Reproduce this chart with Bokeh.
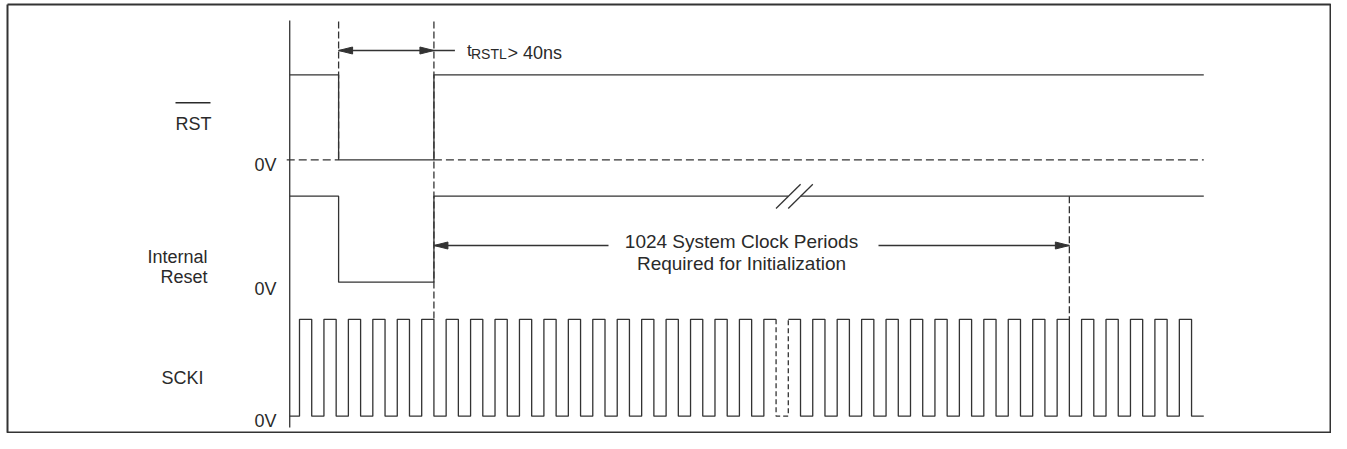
from bokeh.plotting import figure
from bokeh.models import Range1d
from bokeh.core.properties import value
from bokeh.embed import file_html
from bokeh.resources import INLINE

# ---------------- data (time measured in system-clock periods) ----------------
clk_rise = [0, 1, 2, 3, 4, 5, 6, 7, 8, 9, 10, 11, 12, 13, 14, 15, 16, 17, 18,
            19, 20, 21, 22, 23, 24, 25, 26, 27, 28, 29, 30, 31, 32, 33, 34, 35, 36]
clk_high_time = 0.5            # high phase of each clock period
clk_dashed_low = [19.5, 20.0]  # low phase drawn dashed (time break)
t_start = -0.4                 # time axis origin (vertical axis line)
t_end = 37.0
rst_edges = [1.6, 5.5]         # RST falling / rising
ir_edges = [1.6, 5.5]          # Internal Reset falling / rising
init_end = 31.5                # end of 1024 clock periods
ir_break = [20.0, 20.5]        # "//" break in Internal Reset
trstl_span = [1.6, 5.5]

signal_labels = ["RST", "Internal", "Reset", "SCKI"]
zero_label = "0V"
trstl_text = ["t", "RSTL", "> 40ns"]
init_text = ["1024 System Clock Periods", "Required for Initialization"]

# ---------------- layout / style ----------------
W, H = 1331, 433
OFF = 0                      # screen offset of the plot canvas
X0 = 299.0                   # screen x of t = 0
PX = 24.44                   # screen px per clock period
INK = "#333333"
TXT = "#2a2a2a"
FONT = "Liberation Sans"
LW = 1.3

RST_HI, RST_LO = 74.3, 159.3
IR_HI, IR_LO = 195.7, 281.7
CK_HI, CK_LO = 318.8, 415.7
AX_TOP, AX_BOT = 20.0, 427.0
DASH_TOP = 21.0
ARROW1_Y = 50.0
ARROW2_Y = 245.0
FRAME = (7, 4, 1330, 432)

p = figure(width=W, height=H, output_backend="svg", toolbar_location=None,
           x_axis_type=None, y_axis_type=None,
           x_range=Range1d((OFF - X0) / PX, (OFF + W - X0) / PX),
           y_range=Range1d(OFF + H, OFF),
           min_border=0, min_border_left=0, min_border_right=0,
           min_border_top=0, min_border_bottom=0)
p.grid.visible = False
p.outline_line_color = None
p.background_fill_color = "white"
p.border_fill_color = "white"


def px(d):
    return d / PX


def sx(x_screen):
    return (x_screen - X0) / PX


# frame
fl, ft, fr, fb = FRAME
p.line([sx(fl), sx(fr), sx(fr), sx(fl), sx(fl)], [ft, ft, fb, fb, ft],
       line_color=INK, line_width=2)

# vertical axis line
p.line([t_start, t_start], [AX_TOP, AX_BOT], line_color=INK, line_width=LW)

# ---- RST ----
f, r = rst_edges
p.line([t_start, f, f, r, r, t_end], [RST_HI, RST_HI, RST_LO, RST_LO, RST_HI, RST_HI],
       line_color=INK, line_width=LW)
p.line([t_start - px(3), f], [RST_LO, RST_LO], line_color=INK, line_width=LW, line_dash="8 4")
p.line([r, t_end], [RST_LO, RST_LO], line_color=INK, line_width=LW, line_dash="8 4")

# ---- Internal Reset ----
f, r = ir_edges
p.line([t_start, f, f, r, r, ir_break[0]], [IR_HI, IR_HI, IR_LO, IR_LO, IR_HI, IR_HI],
       line_color=INK, line_width=LW)
p.line([ir_break[1], t_end], [IR_HI, IR_HI], line_color=INK, line_width=LW)
for bt in ir_break:
    p.line([bt - px(12.3), bt + px(12.3)], [IR_HI + 12.3, IR_HI - 12.0],
           line_color=INK, line_width=LW)

# ---- SCKI ----
xs1, ys1 = [t_start], [CK_LO]
xs2, ys2 = [], []
for t in clk_rise:
    tf = t + clk_high_time
    if t < clk_dashed_low[1]:
        xs1 += [t, t, tf]
        ys1 += [CK_LO, CK_HI, CK_HI]
        if tf != clk_dashed_low[0]:
            xs1 += [tf]
            ys1 += [CK_LO]
    else:
        if not xs2:
            xs2, ys2 = [t], [CK_HI]
        else:
            xs2 += [t, t]
            ys2 += [CK_LO, CK_HI]
        xs2 += [tf, tf]
        ys2 += [CK_HI, CK_LO]
xs2 += [t_end]
ys2 += [CK_LO]
p.line(xs1, ys1, line_color=INK, line_width=LW)
p.line(xs2, ys2, line_color=INK, line_width=LW)
a, b = clk_dashed_low
p.line([a, a, b, b], [CK_HI, CK_LO, CK_LO, CK_HI], line_color=INK, line_width=LW,
       line_dash="5 3")

# ---- dashed reference verticals ----
p.line([trstl_span[0]] * 2, [DASH_TOP, RST_LO], line_color=INK, line_width=LW, line_dash="7 3")
p.line([trstl_span[1]] * 2, [DASH_TOP, CK_HI], line_color=INK, line_width=LW, line_dash="7 3")
p.line([init_end] * 2, [IR_HI, CK_HI], line_color=INK, line_width=LW, line_dash="7 3")

# ---- arrows ----
HL, HW = px(14), 3.5


def head(tip, y, direction):
    base = tip - direction * HL
    return [tip, base, base], [y, y - HW, y + HW]


heads_x, heads_y = [], []
for tip, y, d in [(trstl_span[0], ARROW1_Y, -1), (trstl_span[1], ARROW1_Y, 1),
                  (ir_edges[1], ARROW2_Y, -1), (init_end, ARROW2_Y, 1)]:
    hx, hy = head(tip, y, d)
    heads_x.append(hx)
    heads_y.append(hy)
p.patches(heads_x, heads_y, fill_color=INK, line_color=INK, line_width=1)

p.line([trstl_span[0], trstl_span[1] + px(21)], [ARROW1_Y, ARROW1_Y], line_color=INK, line_width=LW)
p.line([ir_edges[1], sx(608)], [ARROW2_Y, ARROW2_Y], line_color=INK, line_width=LW)
p.line([sx(878), init_end], [ARROW2_Y, ARROW2_Y], line_color=INK, line_width=LW)


# ---- texts ----
def txt(x_screen, y_screen, s, size, align="left"):
    p.text(x=[sx(x_screen)], y=[y_screen], text=[s], text_font=value(FONT),
           text_font_size=f"{size}px", text_color=TXT, text_align=align,
           text_baseline="alphabetic")


txt(211, 123.3, signal_labels[0], 18, "right")
p.line([sx(175), sx(210)], [102.3, 102.3], line_color=TXT, line_width=1.5)
txt(207, 256, signal_labels[1], 18, "right")
txt(207, 276, signal_labels[2], 18, "right")
txt(203, 377, signal_labels[3], 18, "right")
for yb in (164, 288.3, 420):
    txt(276, yb, zero_label, 18, "right")

txt(466.5, 49.5, trstl_text[0], 17)
txt(470.5, 53.5, trstl_text[1], 14)
txt(507.0, 52.3, trstl_text[2], 18)

txt(741, 241, init_text[0], 19, "center")
txt(741, 263.3, init_text[1], 19, "center")

open("out.html", "w").write(file_html(p, INLINE))
